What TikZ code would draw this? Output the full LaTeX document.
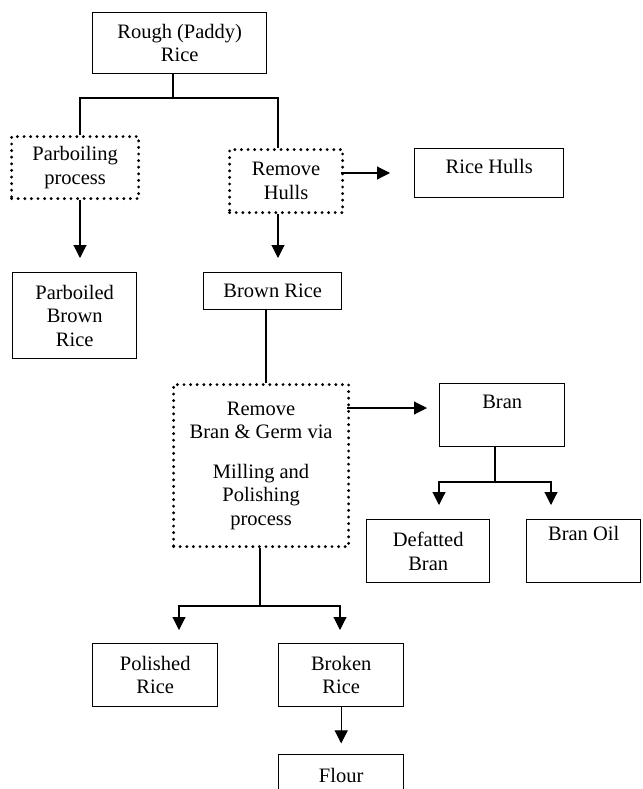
\documentclass[tikz,border=0pt]{standalone}
\usepackage{fontspec}
\setmainfont{Liberation Serif}
\usetikzlibrary{arrows.meta}
\begin{document}
\begin{tikzpicture}[x=1pt,y=-1pt,
  font=\fontsize{20.5}{23.5}\selectfont,
  box/.style={draw, line width=1.4pt, anchor=north west, inner sep=0pt, align=center},
  dotbox/.style={draw, dash pattern=on 0pt off 6.6pt, line cap=round, line width=3.2pt, anchor=north west, inner sep=0pt, align=center},
  conn/.style={line width=1.1pt},
  arr/.style={line width=1.1pt, -{Triangle[length=13pt,width=13pt]}}
]
\useasboundingbox (0,0) rectangle (642,789);
\clip (0,0) rectangle (642,789);

\node[box, minimum width=174pt, minimum height=61pt] (rough) at (92,12) {Rough (Paddy)\\Rice};
\node[dotbox, minimum width=127pt, minimum height=62pt] (parboil) at (10,135) {Parboiling\\process};
\node[dotbox, minimum width=113pt, minimum height=63pt] (hulls) at (228,148) {Remove\\Hulls};
\node[box, minimum width=149pt, text height=25pt, text depth=24pt] (ricehulls) at (414,148) {Rice Hulls};
\node[box, minimum width=124pt, minimum height=86pt] (parboiled) at (12,272) {Parboiled\\Brown\\Rice};
\node[box, minimum width=138pt, minimum height=37pt] (brown) at (203,272) {Brown Rice};
\node[dotbox, minimum width=175pt, minimum height=162pt] (mill) at (172,383) {Remove\\Bran \& Germ via\\[16pt]Milling and\\Polishing\\process};
\node[box, minimum width=125pt, text height=25pt, text depth=38pt] (bran) at (439,383) {Bran};
\node[box, minimum width=123pt, minimum height=63pt] (defatted) at (366,519) {Defatted\\Bran};
\node[box, minimum width=114pt, text height=21pt, text depth=42pt] (branoil) at (526,519) {Bran Oil};
\node[box, minimum width=125pt, minimum height=63pt] (polished) at (92,643) {Polished\\Rice};
\node[box, minimum width=125pt, minimum height=63pt] (broken) at (278,643) {Broken\\Rice};
\node[box, minimum width=125pt, text height=28pt, text depth=32pt] (flour) at (278,754) {Flour};

% junctions and free ends
\coordinate (j1) at (173,98);
\coordinate (j1l) at (80,98);
\coordinate (j1r) at (278,98);
\coordinate (hullsout) at (341,173);
\coordinate (hullstip) at (390,173);
\coordinate (pbtip) at (80,258);
\coordinate (hbtip) at (278,258);
\coordinate (millout) at (347,408);
\coordinate (milltip) at (427,408);
\coordinate (j2) at (260,606);
\coordinate (j2l) at (179,606);
\coordinate (j2r) at (340,606);
\coordinate (j3) at (495,482);
\coordinate (j3l) at (439,482);
\coordinate (j3r) at (551,482);

\draw[conn] (rough.south -| j1) -- (j1);
\draw[conn] (j1l |- parboil.north) -- (j1l) -- (j1r) -- (j1r |- hulls.north);
\draw[arr] (hullsout) -- (hullstip);
\draw[arr] (parboil.south -| pbtip) -- (pbtip);
\draw[arr] (hulls.south -| hbtip) -- (hbtip);
\draw[conn] (brown.south -| 266,0) -- (mill.north -| 266,0);
\draw[arr] (millout) -- (milltip);
\draw[conn] (bran.south -| j3) -- (j3);
\draw[arr] (j3) -- (j3l) -- ++(0,23);
\draw[arr] (j3) -- (j3r) -- ++(0,23);
\draw[conn] (mill.south -| j2) -- (j2);
\draw[arr] (j2) -- (j2l) -- ++(0,24);
\draw[arr] (j2) -- (j2r) -- ++(0,24);
\draw[arr] (broken.south) -- ++(0,36);
\end{tikzpicture}
\end{document}
